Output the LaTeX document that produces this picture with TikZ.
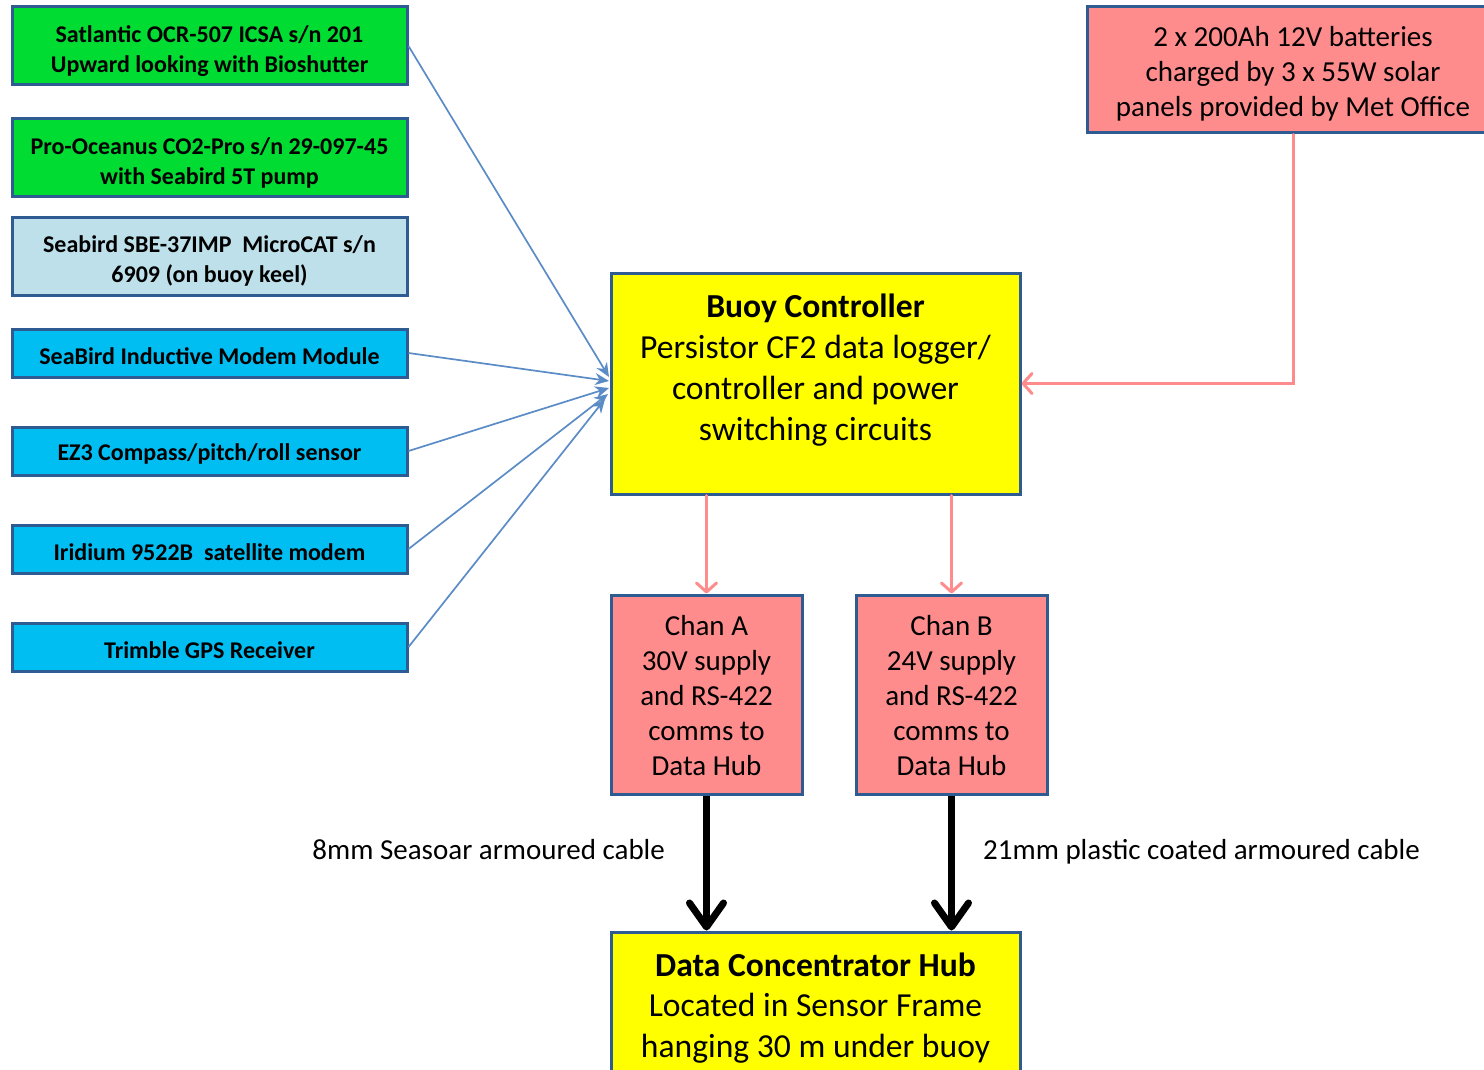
\documentclass[tikz,border=0pt]{standalone}
\usepackage{fontspec}
\setmainfont{Carlito}
\usetikzlibrary{arrows.meta}
\definecolor{edgeblue}{HTML}{2E5C92}
\definecolor{linkblue}{HTML}{5B8CC6}
\definecolor{sgreen}{HTML}{00DC32}
\definecolor{lblue}{HTML}{BEE0EA}
\definecolor{cyanbox}{HTML}{00BDF2}
\definecolor{pinkbox}{HTML}{FF8C8C}
\definecolor{pinkline}{HTML}{FF8C8C}
\definecolor{ybox}{HTML}{FFFF00}
\tikzset{
  box/.style={draw=edgeblue, line width=3pt, inner sep=0pt},
  sensor/.style={box, minimum width=395pt},
  stext/.style={inner sep=0pt, align=center, font=\fontsize{24}{30}\selectfont\bfseries},
  chanbox/.style={box, fill=pinkbox, minimum width=191pt, minimum height=199pt},
  mtext/.style={inner sep=0pt, align=center, font=\fontsize{29}{35}\selectfont},
  btext/.style={inner sep=0pt, align=center, font=\fontsize{33.6}{41}\selectfont},
  bluelink/.style={draw=linkblue, line width=1.7pt, -{Stealth[length=14pt,width=12pt]}},
  pinklink/.style={draw=pinkline, line width=3pt, line cap=round, -{Straight Barb[length=9pt,width=20pt,line cap=round,line join=round]}},
  cablelink/.style={draw=black, line width=7pt, -{Straight Barb[length=24pt,width=34pt,line cap=round,line join=round]}},
  lbl/.style={inner sep=0pt, font=\fontsize{29}{35}\selectfont}
}
\begin{document}
\begin{tikzpicture}[x=1pt,y=-1pt]
\clip (0,0) rectangle (1484,1070);
\fill[white] (0,0) rectangle (1484,1070);
% sensors
\node[sensor, fill=sgreen, minimum height=78pt] (s1) at (209.5,46) {};
\node[stext] (s1t) at (209.5,51) {Satlantic OCR-507 ICSA s/n 201\\Upward looking with Bioshutter};
\node[sensor, fill=sgreen, minimum height=78pt] (s2) at (209.5,158) {};
\node[stext] (s2t) at (209.5,163) {Pro-Oceanus CO2-Pro s/n 29-097-45\\with Seabird 5T pump};
\node[sensor, fill=lblue, minimum height=78pt] (s3) at (209.5,256) {};
\node[stext] (s3t) at (209.5,261) {Seabird SBE-37IMP\ \ MicroCAT s/n\\6909 (on buoy keel)};
\node[sensor, fill=cyanbox, minimum height=48pt] (s4) at (209.5,353) {};
\node[stext] (s4t) at (209.5,356) {SeaBird Inductive Modem Module};
\node[sensor, fill=cyanbox, minimum height=48pt] (s5) at (209.5,451) {};
\node[stext] (s5t) at (209.5,454) {EZ3 Compass/pitch/roll sensor};
\node[sensor, fill=cyanbox, minimum height=48pt] (s6) at (209.5,549) {};
\node[stext] (s6t) at (209.5,552) {Iridium 9522B\ \ satellite modem};
\node[sensor, fill=cyanbox, minimum height=48pt] (s7) at (209.5,647) {};
\node[stext] (s7t) at (209.5,650) {Trimble GPS Receiver};
% controller
\node[box, fill=ybox, minimum width=409pt, minimum height=221pt] (bc) at (815.5,383.5) {};
\node[btext] (bct) at (815.5,370) {{\bfseries Buoy Controller}\\Persistor CF2 data logger/\\controller and power\\switching circuits};
% batteries
\node[box, fill=pinkbox, minimum width=412pt, minimum height=126pt] (bat) at (1293,70) {};
\node[mtext] (batt) at (1293,73.5) {2 x 200Ah 12V batteries\\charged by 3 x 55W solar\\panels provided by Met Office};
% channels
\node[chanbox] (ca) at (706.5,694.5) {};
\node[mtext] (cat) at (706.5,696) {Chan A\\30V supply\\and RS-422\\comms to\\Data Hub};
\node[chanbox] (cb) at (951.5,694.5) {};
\node[mtext] (cbt) at (951.5,696) {Chan B\\24V supply\\and RS-422\\comms to\\Data Hub};
% hub
\node[box, fill=ybox, minimum width=409pt, minimum height=170pt] (hub) at (815.5,1017) {};
\node[inner sep=0pt, align=center, font=\fontsize{33.6}{40.5}\selectfont] (hubt) at (815.5,1008) {{\bfseries Data Concentrator Hub}\\Located in Sensor Frame\\hanging 30 m under buoy};
% cable labels
\node[lbl, anchor=east] (l8) at (665,850) {8mm Seasoar armoured cable};
\node[lbl, anchor=west] (l21) at (983,851.5) {21mm plastic coated armoured cable};
% sensor links
\coordinate (t1) at (609,377);
\coordinate (t4) at (609,381);
\coordinate (t5) at (609,388);
\coordinate (t6) at (608,394);
\coordinate (t7) at (605,399);
\draw[bluelink] (s1.east) -- (t1);
\draw[bluelink] (s4.east) -- (t4);
\draw[bluelink] (s5.east) -- (t5);
\draw[bluelink] (s6.east) -- (t6);
\draw[bluelink] (s7.east) -- (t7);
% power
\draw[pinklink] (bat.south) |- (bc.east);
\draw[pinklink] (ca.north |- bc.south) -- (ca.north);
\draw[pinklink] (cb.north |- bc.south) -- (cb.north);
% cables
\draw[cablelink] (ca.south) -- (ca.south |- hub.north);
\draw[cablelink] (cb.south) -- (cb.south |- hub.north);
\end{tikzpicture}
\end{document}
